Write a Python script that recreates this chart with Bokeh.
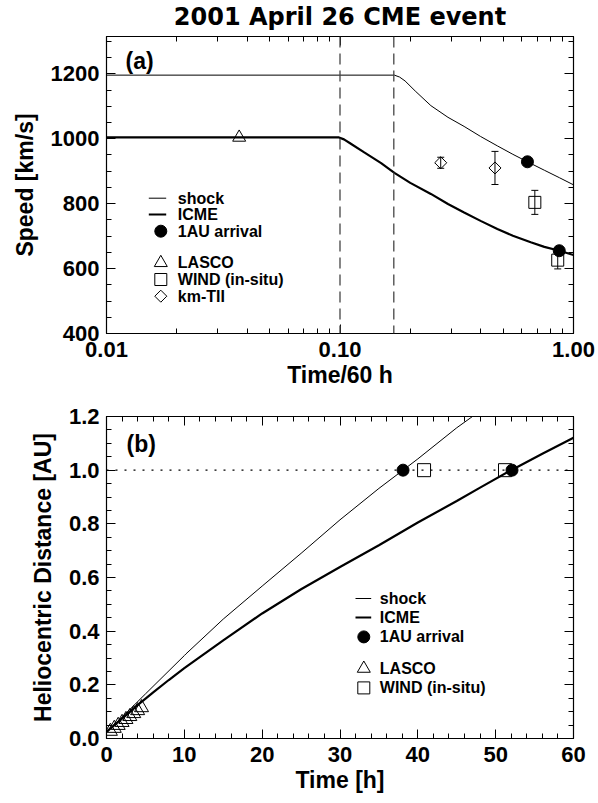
import numpy as np
from bokeh.plotting import figure
from bokeh.core.properties import value
from bokeh.models import (Range1d, LinearAxis, LogAxis, FixedTicker, PrintfTickFormatter,
                          Span, Whisker, TeeHead, ColumnDataSource, Label)
from bokeh.layouts import column
from bokeh.embed import file_html
from bokeh.resources import INLINE

FONT = "Liberation Sans"
TITLE = "2001 April 26 CME event"

# ---------------- Panel (a): speed vs time/60 h ----------------
shock_frac_t = [0.01, 0.171, 0.18, 0.19, 0.21, 0.245, 0.29, 0.34, 0.40, 0.472, 0.55, 0.635, 0.75, 0.87, 1.0]
shock_speed = [1196, 1196, 1190, 1178, 1147, 1102, 1066, 1038, 1007, 978, 952, 929, 903, 880, 858]
icme_frac_t = [0.01, 0.099, 0.104, 0.11, 0.127, 0.15, 0.171, 0.20, 0.245, 0.29, 0.34, 0.40, 0.472, 0.55, 0.656, 0.75, 0.87, 1.0]
icme_speed = [1004, 1004, 998, 987, 958, 925, 895, 864, 830, 799, 773, 747, 722, 701, 681, 667, 655, 642]
lasco_frac_t = [0.037]
lasco_speed = [1004]
wind_frac_t = [0.683, 0.856]
wind_speed = [804, 626]
wind_err = [37, 27]
kmtii_frac_t = [0.270, 0.461]
kmtii_speed = [926, 910]
kmtii_err = [17, 51]
arrival_frac_t = [0.635, 0.869]
arrival_speed = [929, 655]
phase_bounds = [0.10, 0.17]

frac_major = [0.01, 0.1, 1.0]
frac_minor = [m * 10.0 ** e for e in (-2, -1) for m in range(2, 10)]
speed_major = [400, 600, 800, 1000, 1200]
speed_minor = list(range(400, 1350, 50))

legend_a_labels = ["shock", "ICME", "1AU arrival", "LASCO", "WIND (in-situ)", "km-TII"]
legend_a_kinds = ["thin", "thick", "arrival", "lasco", "wind", "km"]

# ---------------- Panel (b): distance vs time ----------------
shock_t_h = [0, 5, 10, 10.2, 15, 20, 25, 30, 35, 38.1, 40, 45, 50]
shock_dist = [0.022, 0.166, 0.309, 0.315, 0.445, 0.568, 0.690, 0.815, 0.932, 1.0, 1.042, 1.158, 1.262]
icme_t_h = [0, 4.15, 6, 8, 10, 15, 20, 25, 30, 35, 40, 45, 48, 52, 56, 60]
icme_dist = [0.025, 0.128, 0.172, 0.218, 0.262, 0.366, 0.466, 0.556, 0.639, 0.720, 0.805, 0.885, 0.935, 1.0, 1.061, 1.121]
lasco_t_h = [0.5, 1.0, 1.5, 2.0, 2.5, 3.0, 3.5, 4.0, 4.5]
lasco_dist = [0.027, 0.038, 0.049, 0.060, 0.071, 0.082, 0.093, 0.104, 0.115]
wind_t_h = [40.8, 51.2]
wind_dist = [1.0, 1.0]
arrival_t_h = [38.1, 52.1]
arrival_dist = [1.0, 1.0]
one_au = 1.0

time_major = [0, 10, 20, 30, 40, 50, 60]
time_minor = list(range(0, 61, 2))
dist_major = [0.0, 0.2, 0.4, 0.6, 0.8, 1.0, 1.2]
dist_minor = [round(0.05 * i, 2) for i in range(0, 25)]

legend_b_labels = ["shock", "ICME", "1AU arrival", "LASCO", "WIND (in-situ)"]
legend_b_kinds = ["thin", "thick", "arrival", "lasco", "wind"]

MARK = {
    "arrival": dict(marker="circle", size=12, fill_color="black", line_color="black"),
    "lasco": dict(marker="triangle", size=13, fill_color=None, line_color="black", line_width=1),
    "wind": dict(marker="square", size=12, fill_color=None, line_color="black", line_width=1),
    "km": dict(marker="square", angle=np.pi / 4, size=8.5, fill_color=None,
               line_color="black", line_width=1),
}


def style_axis(ax, show_labels=True):
    ax.axis_line_color = "black"
    ax.axis_line_width = 1.2
    ax.major_tick_in = 9
    ax.major_tick_out = 0
    ax.minor_tick_in = 5
    ax.minor_tick_out = 0
    ax.major_tick_line_color = "black"
    ax.minor_tick_line_color = "black"
    if show_labels:
        ax.major_label_text_font = FONT
        ax.major_label_text_font_style = "bold"
        ax.major_label_text_font_size = "22px"
        ax.major_label_text_color = "black"
        ax.axis_label_text_font = FONT
        ax.axis_label_text_font_style = "bold"
        ax.axis_label_text_font_size = "23px"
        ax.axis_label_text_color = "black"
    else:
        ax.major_label_text_font_size = "1px"
        ax.major_label_text_alpha = 0
        ax.major_label_standoff = 0


def draw_legend(p, conv, labels, kinds, rows, line_px, mark_px, text_px):
    """Legend keys placed at frame-pixel offsets (converted to data space)."""
    for lab, kind, py in zip(labels, kinds, rows):
        if kind in ("thin", "thick"):
            x0, y0 = conv(line_px[0], py)
            x1, _ = conv(line_px[1], py)
            p.segment(x0=[x0], y0=[y0], x1=[x1], y1=[y0], line_color="black",
                      line_width=1 if kind == "thin" else 2.2)
        else:
            x, y = conv(mark_px, py)
            p.scatter([x], [y], **MARK[kind])
        tx, ty = conv(text_px, py)
        p.text([tx], [ty], text=[lab], text_font=value(FONT), text_font_style="bold",
               text_font_size="16px", text_baseline="middle", text_color="black")


W = 598
FW, FHA, FHB = 467, 297, 322
TH = 30  # title strip height

# ======== Title strip ========
pt = figure(width=W, height=TH, x_range=Range1d(0, 1), y_range=Range1d(0, 1),
            min_border_left=106, min_border_right=W - 106 - FW, min_border_top=0,
            min_border_bottom=0, x_axis_location=None, y_axis_location=None,
            output_backend="svg", toolbar_location=None, title=TITLE)
pt.outline_line_color = None
pt.xgrid.visible = False
pt.ygrid.visible = False
pt.title.text_font = "DejaVu Sans"
pt.title.text_font_style = "bold"
pt.title.text_font_size = "24px"
pt.title.text_color = "black"
pt.title.align = "center"
pt.title.standoff = 0

# ======== Figure (a) ========
pa = figure(x_axis_type="log", x_range=Range1d(0.01, 1.0), y_range=Range1d(400, 1315),
            frame_width=FW, frame_height=FHA, min_border_left=106, min_border_right=25,
            min_border_top=36 - TH, min_border_bottom=67, output_backend="svg",
            toolbar_location=None)
pa.xgrid.visible = False
pa.ygrid.visible = False
pa.outline_line_color = "black"

xa = pa.xaxis[0]
xa.ticker = FixedTicker(ticks=frac_major, minor_ticks=frac_minor)
xa.formatter = PrintfTickFormatter(format="%.2f")
xa.axis_label = "Time/60 h"
style_axis(xa)
xa.major_label_standoff = 8
xa.axis_label_standoff = 2
ya = pa.yaxis[0]
ya.ticker = FixedTicker(ticks=speed_major, minor_ticks=speed_minor)
ya.axis_label = "Speed [km/s]"
style_axis(ya)
ya.major_label_standoff = 7
ya.axis_label_standoff = 10

ta = LogAxis(ticker=FixedTicker(ticks=frac_major, minor_ticks=frac_minor))
style_axis(ta, False)
pa.add_layout(ta, "above")
ra = LinearAxis(ticker=FixedTicker(ticks=speed_major, minor_ticks=speed_minor))
style_axis(ra, False)
pa.add_layout(ra, "right")

for b in phase_bounds:
    pa.add_layout(Span(location=b, dimension="height", line_color="#444444",
                       line_width=1.3, line_dash="11 6"))

pa.line(shock_frac_t, shock_speed, line_color="black", line_width=1)
pa.line(icme_frac_t, icme_speed, line_color="black", line_width=2.2)

src_wind_a = ColumnDataSource(dict(t=wind_frac_t, v=wind_speed,
                                   lo=[v - e for v, e in zip(wind_speed, wind_err)],
                                   hi=[v + e for v, e in zip(wind_speed, wind_err)]))
src_km_a = ColumnDataSource(dict(t=kmtii_frac_t, v=kmtii_speed,
                                 lo=[v - e for v, e in zip(kmtii_speed, kmtii_err)],
                                 hi=[v + e for v, e in zip(kmtii_speed, kmtii_err)]))
for s in (src_wind_a, src_km_a):
    pa.add_layout(Whisker(source=s, base="t", lower="lo", upper="hi", dimension="height",
                          line_color="black", line_width=1,
                          lower_head=TeeHead(size=7, line_width=1, line_color="black"),
                          upper_head=TeeHead(size=7, line_width=1, line_color="black")))

pa.scatter(arrival_frac_t, arrival_speed, **MARK["arrival"])
pa.scatter(lasco_frac_t, lasco_speed, **MARK["lasco"])
pa.scatter("t", "v", source=src_wind_a, **MARK["wind"])
pa.scatter("t", "v", source=src_km_a, **MARK["km"])


def conv_a(px, py):
    return 10 ** (-2 + px / FW * 2), 400 + py / FHA * 915


draw_legend(pa, conv_a, legend_a_labels, legend_a_kinds,
            [135.3, 119.0, 102.3, 70.7, 54.0, 37.3], (42.3, 59.7), 54.3, 71.3)
pa.add_layout(Label(x=0.01206, y=1241, text="(a)", text_font=FONT, text_font_style="bold",
                    text_font_size="23px", text_baseline="middle", text_color="black"))

# ======== Figure (b) ========
pb = figure(x_range=Range1d(0, 60), y_range=Range1d(0, 1.2),
            frame_width=FW, frame_height=FHB, min_border_left=106, min_border_right=25,
            min_border_top=16, min_border_bottom=65, output_backend="svg",
            toolbar_location=None)
pb.xgrid.visible = False
pb.ygrid.visible = False
pb.outline_line_color = "black"

xb = pb.xaxis[0]
xb.ticker = FixedTicker(ticks=time_major, minor_ticks=time_minor)
xb.axis_label = "Time [h]"
style_axis(xb)
xb.major_label_standoff = 8
xb.axis_label_standoff = 2
yb = pb.yaxis[0]
yb.ticker = FixedTicker(ticks=dist_major, minor_ticks=dist_minor)
yb.formatter = PrintfTickFormatter(format="%.1f")
yb.axis_label = "Heliocentric Distance [AU]"
style_axis(yb)
yb.major_label_standoff = 7
yb.axis_label_standoff = 10

tb = LinearAxis(ticker=FixedTicker(ticks=time_major, minor_ticks=time_minor))
style_axis(tb, False)
pb.add_layout(tb, "above")
rb = LinearAxis(ticker=FixedTicker(ticks=dist_major, minor_ticks=dist_minor))
style_axis(rb, False)
pb.add_layout(rb, "right")

pb.add_layout(Span(location=one_au, dimension="width", line_color="black",
                   line_width=1.2, line_dash="2 7"))

pb.line(shock_t_h, shock_dist, line_color="black", line_width=1)
pb.line(icme_t_h, icme_dist, line_color="black", line_width=2.2)
pb.scatter(lasco_t_h, lasco_dist, marker="triangle", size=14, fill_color=None,
           line_color="black", line_width=1)
pb.scatter(wind_t_h, wind_dist, marker="square", size=13, fill_color=None,
           line_color="black", line_width=1)
pb.scatter(arrival_t_h, arrival_dist, **MARK["arrival"])


def conv_b(px, py):
    return px / FW * 60, py / FHB * 1.2


draw_legend(pb, conv_b, legend_b_labels, legend_b_kinds,
            [140.0, 121.0, 101.6, 70.0, 50.6], (249.0, 264.7), 257.3, 273.3)
pb.add_layout(Label(x=2.57, y=1.099, text="(b)", text_font=FONT, text_font_style="bold",
                    text_font_size="23px", text_baseline="middle", text_color="black"))

layout = column(pt, pa, pb, spacing=0)
open("out.html", "w").write(file_html(layout, INLINE))
